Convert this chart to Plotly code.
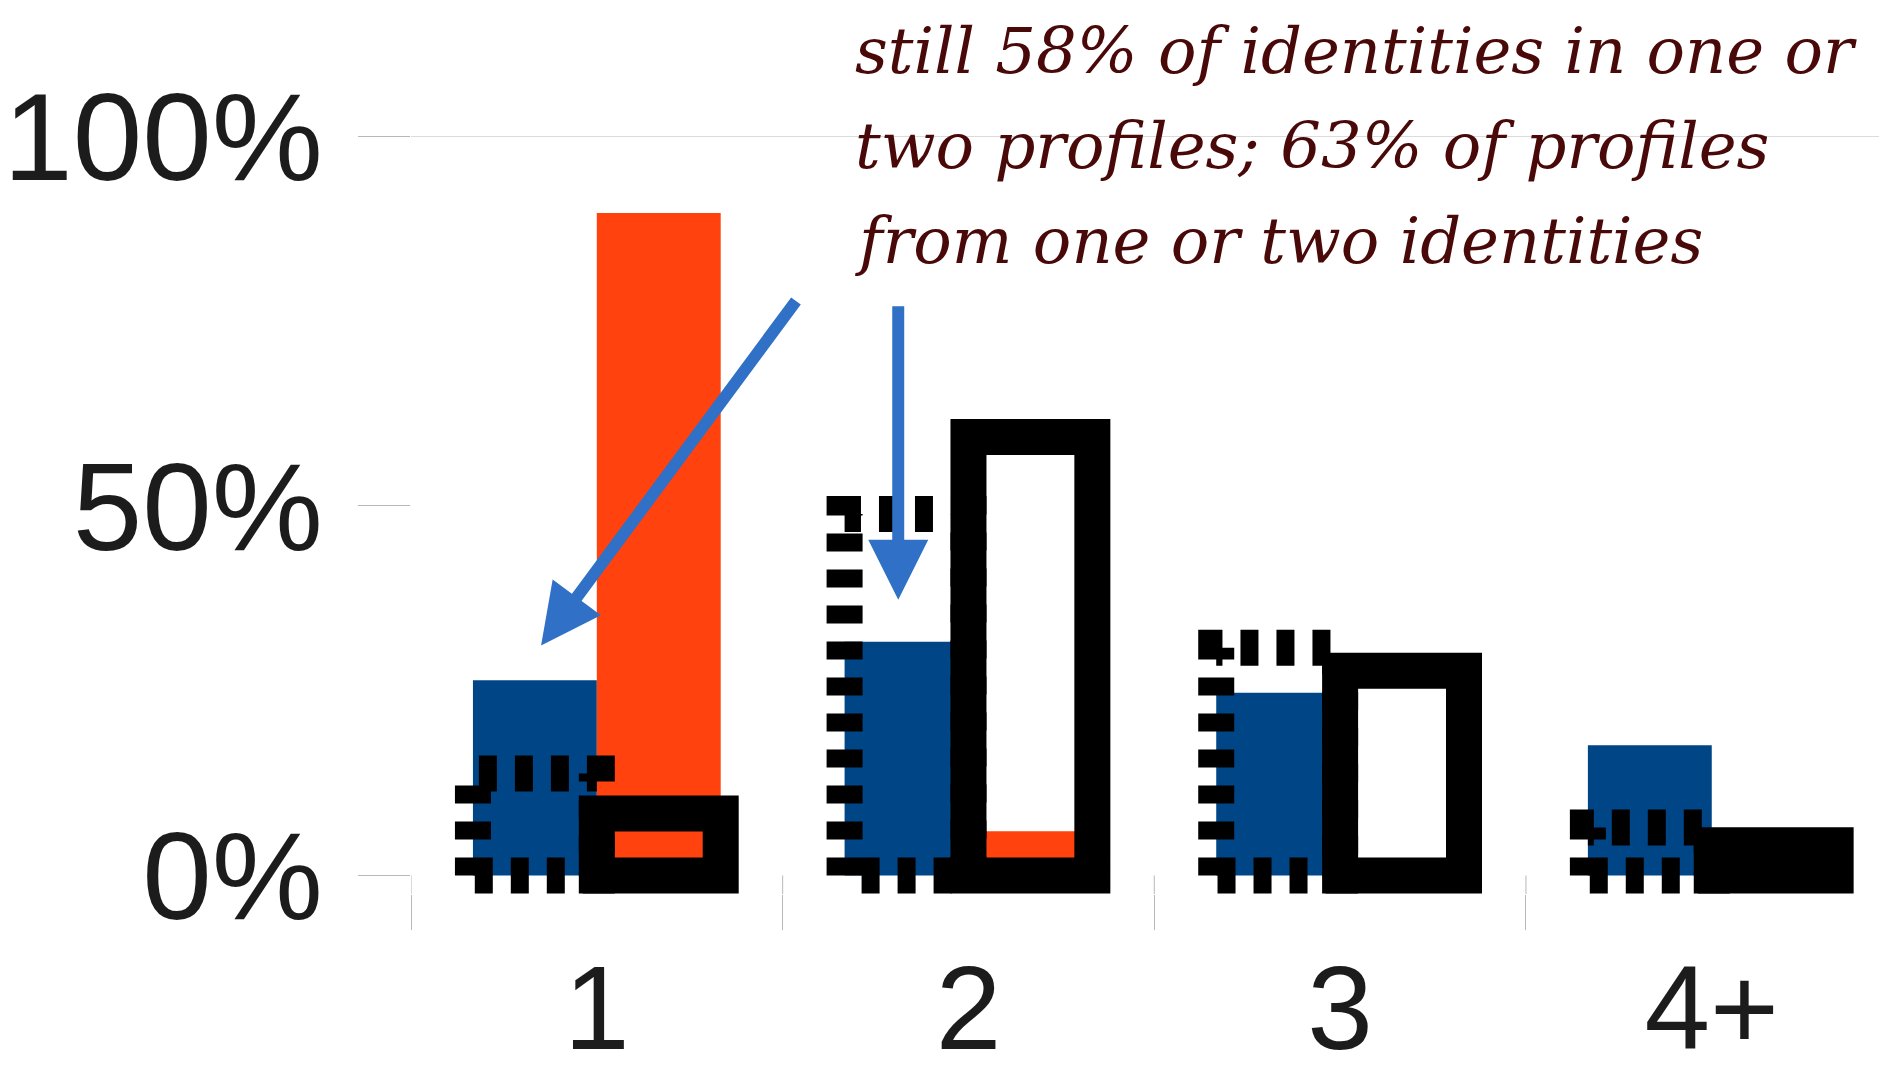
import plotly.graph_objects as go

# Share of items per bucket (percent)
categories = ["1", "2", "3", "4+"]
identities_per_profile = [26.4, 31.6, 24.7, 17.6]   # filled blue
profiles_per_identity = [89.6, 6.0, 2.0, 2.4]       # filled orange
identities_outline = [13.8, 48.9, 30.8, 6.5]        # dashed black outline
profiles_outline = [8.4, 59.3, 27.7, 4.1]           # solid black outline

y_tick_values = [0, 50, 100]
y_tick_labels = ["0%", "50%", "100%"]

note_lines = [
    "still 58% of identities in one or",
    "two profiles; 63% of profiles",
    "from one or two identities",
]

BLUE = "#004586"
ORANGE = "#ff420e"
ARROW = "#3070c6"
NOTE = "#4a0909"
AXIS_GRAY = "#b8b8b8"
BAR_W = 1 / 3          # width of one bar in category units
OUTLINE_W = 36         # stroke width of the outline bars
Y_FLOOR = -2.5         # room below zero so the thick outlines are not cut

positions = list(range(len(categories)))
boundaries = [p - 0.5 for p in positions]


def outline_path(values, offset, repeat_first=False):
    """Rectangle outlines sharing the geometry of a bar series."""
    xs, ys = [], []
    for i, v in zip(positions, values):
        x0 = i + offset
        x1 = x0 + BAR_W
        xs += [x0, x0, x1, x1, x0]
        ys += [0, v, v, 0, 0]
        if repeat_first:
            xs.append(x0)
            ys.append(v)
        xs.append(None)
        ys.append(None)
    return xs, ys


fig = go.Figure()

fig.add_trace(go.Bar(
    x=positions, y=identities_per_profile, width=BAR_W, offset=-BAR_W,
    marker=dict(color=BLUE, line=dict(width=0)), showlegend=False,
))
fig.add_trace(go.Bar(
    x=positions, y=profiles_per_identity, width=BAR_W, offset=0,
    marker=dict(color=ORANGE, line=dict(width=0)), showlegend=False,
))

dx, dy = outline_path(identities_outline, -BAR_W)
fig.add_trace(go.Scatter(
    x=dx, y=dy, mode="lines", showlegend=False,
    line=dict(color="black", width=OUTLINE_W, dash="18px,18px"),
    hoverinfo="skip",
))
sx, sy = outline_path(profiles_outline, 0, repeat_first=True)
fig.add_trace(go.Scatter(
    x=sx, y=sy, mode="lines", showlegend=False,
    line=dict(color="black", width=OUTLINE_W),
    hoverinfo="skip",
))

annotations = []
# arrows pointing at the first two buckets of the blue series
annotations.append(dict(
    x=-0.15, y=31.1, xref="x", yref="y", ax=256, ay=-346, text="",
    showarrow=True, arrowhead=2, arrowsize=1.0, arrowwidth=12, arrowcolor=ARROW,
))
annotations.append(dict(
    x=0.811, y=37.3, xref="x", yref="y", ax=0, ay=-295, text="",
    showarrow=True, arrowhead=2, arrowsize=1.0, arrowwidth=12, arrowcolor=ARROW,
))
for line, ypos in zip(note_lines, [1.112, 0.9874, 0.861]):
    annotations.append(dict(
        x=0.3011, y=ypos, xref="paper", yref="paper", xanchor="left", yanchor="middle",
        text=line, showarrow=False,
        font=dict(family="DejaVu Serif", size=64, color=NOTE, style="italic"),
    ))

# inner part of the category separators (between the floor and zero)
shapes = [dict(
    type="line", xref="paper", yref="y", x0=0, x1=1, y0=100, y1=100,
    line=dict(color=AXIS_GRAY, width=1), layer="below",
)]
for b in boundaries:
    shapes.append(dict(
        type="line", xref="x", yref="y", x0=b, x1=b, y0=Y_FLOOR, y1=0,
        line=dict(color=AXIS_GRAY, width=1), layer="below",
    ))

fig.update_layout(
    width=1879, height=1082,
    margin=dict(l=411, r=0, t=136, b=187.5),
    paper_bgcolor="white", plot_bgcolor="white",
    barmode="overlay",
    font=dict(family="Liberation Sans", color="#1c1c1c"),
    annotations=annotations,
    shapes=shapes,
    xaxis=dict(
        range=[-0.5, 3.45], tickmode="array", tickvals=positions, ticktext=categories,
        ticks="", showgrid=False, zeroline=False, showline=False, automargin=False,
        tickfont=dict(size=118), ticklabelstandoff=36,
        minor=dict(tickmode="array", tickvals=boundaries,
                   ticks="outside", ticklen=35, tickcolor=AXIS_GRAY, tickwidth=1,
                   showgrid=False),
    ),
    yaxis=dict(
        range=[Y_FLOOR, 100], tickmode="array", tickvals=y_tick_values, ticktext=y_tick_labels,
        ticks="outside", ticklen=52, tickcolor=AXIS_GRAY, tickwidth=1,
        showgrid=False, zeroline=False, showline=False, automargin=False,
        tickfont=dict(size=125), ticklabelstandoff=10,
    ),
)

fig.write_html("out.html")
